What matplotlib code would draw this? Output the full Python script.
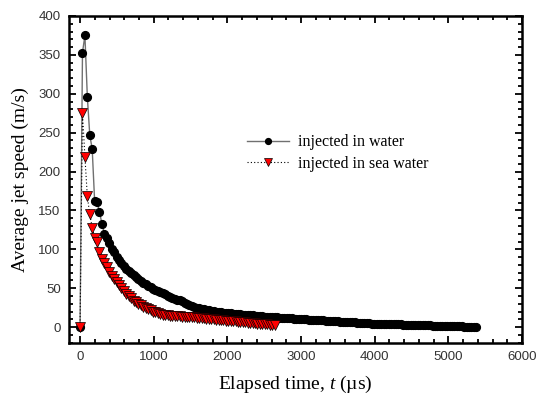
import numpy as np
import matplotlib
matplotlib.use("Agg")
import matplotlib.pyplot as plt
from matplotlib.ticker import MultipleLocator

plt.rcParams["mathtext.fontset"] = "custom"
plt.rcParams["mathtext.it"] = "Liberation Serif:italic"
plt.rcParams["mathtext.rm"] = "Liberation Serif"

# frame interval (µs)
dt = 33.0

water_speed = [
    0, 353, 375, 296, 247, 229, 162, 161, 148, 133,
    120, 114, 108, 101, 96, 90, 86, 82, 78, 75,
    72, 69, 66.5, 64, 61.5, 59, 57, 55, 53, 51,
    49.5, 48, 46.5, 45, 43.5, 42, 40.5, 39, 37.5, 36,
    35, 34.5, 33, 31.5, 30, 28.5, 27, 26, 25, 24.2,
    23.5, 22.8, 22.2, 21.6, 21.1, 20.6, 20.1, 19.6, 19.2, 18.8,
    18.4, 18.0, 17.7, 17.4, 17.1, 16.8, 16.5, 16.2, 15.9, 15.6,
    15.3, 15.0, 14.7, 14.4, 14.1, 13.8, 13.6, 13.3, 13.1, 12.8,
    12.6, 12.4, 12.2, 12.0, 11.8, 11.6, 11.4, 11.2, 11.0, 10.8,
    10.6, 10.4, 10.2, 10.0, 9.8, 9.6, 9.4, 9.2, 9.0, 8.8,
    8.6, 8.4, 8.2, 8.0, 7.8, 7.6, 7.4, 7.2, 7.0, 6.8,
    6.6, 6.4, 6.2, 6.0, 5.8, 5.6, 5.4, 5.2, 5.0, 4.8,
    4.6, 4.5, 4.4, 4.3, 4.2, 4.1, 4.0, 3.9, 3.8, 3.7,
    3.6, 3.5, 3.4, 3.3, 3.2, 3.1, 3.0, 2.9, 2.8, 2.7,
    2.6, 2.5, 2.4, 2.3, 2.2, 2.1, 2.0, 1.9, 1.8, 1.7,
    1.6, 1.5, 1.4, 1.3, 1.2, 1.1, 1.0, 0.9, 0.8, 0.7,
    0.6, 0.5, 0.5, 0.4,
]

sea_speed = [
    0, 275, 219, 168, 145, 128, 115, 109, 96, 88,
    83, 77, 71, 66, 62, 58, 54, 50, 46, 43,
    40, 37, 34, 32, 30, 28, 26, 24.5, 23, 21.5,
    20, 19, 18, 17, 16, 15.5, 15, 14.8, 14.5, 14.2,
    14, 13.8, 13.6, 13.4, 13.2, 13, 12.7, 12.4, 12.1, 11.8,
    11.5, 11.2, 10.9, 10.6, 10.3, 10, 9.7, 9.4, 9.1, 8.8,
    8.5, 8.2, 7.9, 7.6, 7.3, 7.0, 6.7, 6.4, 6.1, 5.8,
    5.5, 5.2, 4.9, 4.6, 4.3, 4.0, 3.7, 3.4, 3.1, 2.8,
    2.5,
]

water_t = np.arange(len(water_speed)) * dt
sea_t = np.arange(len(sea_speed)) * dt

legend_labels = ["injected in water", "injected in sea water"]

W, H = 536, 399
fig = plt.figure(figsize=(W / 100, H / 100), dpi=100)
ax = fig.add_axes([69 / W, 1 - 342.7 / H, (522 - 69) / W, (342.7 - 16) / H])

l1, = ax.plot(water_t, water_speed, color="#707070", lw=1.0, marker="o",
              markersize=5.6, markerfacecolor="black", markeredgecolor="black",
              zorder=3)
l2, = ax.plot(sea_t, sea_speed, color="black", lw=0.8, ls=(0, (1, 2)),
              marker="v", markersize=7, markerfacecolor="red",
              markeredgecolor="black", markeredgewidth=0.5, zorder=4)

ax.set_xlim(-150, 6000)
ax.set_ylim(-20, 400)
ax.xaxis.set_major_locator(MultipleLocator(1000))
ax.xaxis.set_minor_locator(MultipleLocator(200))
ax.yaxis.set_major_locator(MultipleLocator(50))
ax.yaxis.set_minor_locator(MultipleLocator(10))

ax.tick_params(which="both", direction="in", top=True, right=True,
               width=1.3, colors="black")
ax.tick_params(which="major", length=5, labelsize=9.5, pad=6)
ax.tick_params(which="minor", length=3)
for lab in ax.get_xticklabels() + ax.get_yticklabels():
    lab.set_family("Liberation Sans")
    lab.set_color("#333333")
for s in ax.spines.values():
    s.set_linewidth(1.8)

serif = "Liberation Serif"
ax.set_xlabel("Elapsed time, $t$ (\u00b5s)", fontsize=14, family=serif, labelpad=8)
ax.set_ylabel("Average jet speed (m/s)", fontsize=14, family=serif, labelpad=7)

leg = ax.legend([l1, l2], legend_labels, loc="upper left",
                bbox_to_anchor=(233 / W, 1 - 120 / H), bbox_transform=fig.transFigure,
                frameon=False, prop={"family": serif, "size": 11.5},
                handlelength=2.6, handletextpad=0.6, labelspacing=0.35,
                markerscale=0.75)

fig.savefig("out.png", dpi=100)
